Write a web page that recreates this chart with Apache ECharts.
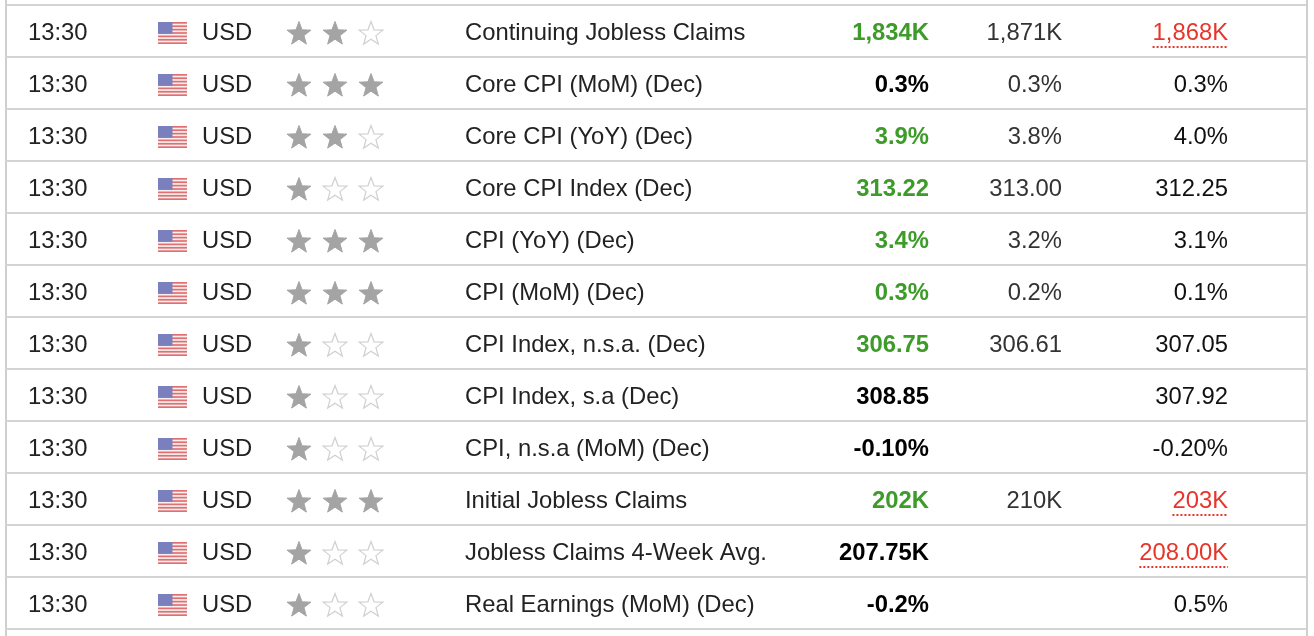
<!DOCTYPE html>
<html>
<head>
<meta charset="utf-8">
<script src="https://cdn.jsdelivr.net/npm/echarts@6/dist/echarts.min.js"></script>
<style>html,body{margin:0;padding:0;background:#fff}#main{width:1314px;height:636px}</style>
</head>
<body>
<div id="main"></div>
<script>
// table rows
var times = ['13:30','13:30','13:30','13:30','13:30','13:30','13:30','13:30','13:30','13:30','13:30','13:30'];
var currency = 'USD';
var events = ['Continuing Jobless Claims','Core CPI (MoM) (Dec)','Core CPI (YoY) (Dec)','Core CPI Index (Dec)',
  'CPI (YoY) (Dec)','CPI (MoM) (Dec)','CPI Index, n.s.a. (Dec)','CPI Index, s.a (Dec)','CPI, n.s.a (MoM) (Dec)',
  'Initial Jobless Claims','Jobless Claims 4-Week Avg.','Real Earnings (MoM) (Dec)'];
var stars = [2,3,2,1,3,3,1,1,1,3,1,1];
var actual = ['1,834K','0.3%','3.9%','313.22','3.4%','0.3%','306.75','308.85','-0.10%','202K','207.75K','-0.2%'];
var actualGood = [1,0,1,1,1,1,1,0,0,1,0,0];
var forecast = ['1,871K','0.3%','3.8%','313.00','3.2%','0.2%','306.61','','','210K','',''];
var previous = ['1,868K','0.3%','4.0%','312.25','3.1%','0.1%','307.05','307.92','-0.20%','203K','208.00K','0.5%'];
var previousRevised = [1,0,0,0,0,0,0,0,0,1,1,0];

var FONT = '"Liberation Sans", Arial, sans-serif';
var FS = '23.8px ';
var chart = echarts.init(document.getElementById('main'));

function starPoints(cx, cy, R, r) {
  var pts = [];
  for (var i = 0; i < 10; i++) {
    var a = -Math.PI / 2 + i * Math.PI / 5;
    var rad = i % 2 ? r : R;
    pts.push([cx + rad * Math.cos(a), cy + rad * Math.sin(a)]);
  }
  return pts;
}

function flag(x, y) {
  var w = 29, h = 22;
  var kids = [{type: 'rect', shape: {x: x, y: y, width: w, height: h}, style: {fill: '#f7eeee'}}];
  for (var k = 0; k < 7; k++) {
    kids.push({type: 'rect', shape: {x: x, y: y + k * 2 * h / 13, width: w, height: h / 13}, style: {fill: '#e07070'}});
  }
  kids.push({type: 'rect', shape: {x: x, y: y, width: w * 0.5, height: h * 7 / 13}, style: {fill: '#7a80bd'}});
  return kids;
}

function renderRow(params, api) {
  var i = api.value(0);
  var y = api.coord([0, i])[1] + 2;
  var bh = api.size([0, 1])[1];
  var top = api.coord([0, i])[1] - bh / 2;
  var base = {font: FS + FONT, textVerticalAlign: 'middle'};
  var kids = [
    {type: 'line', shape: {x1: 6, y1: top + bh, x2: 1307, y2: top + bh}, style: {stroke: '#d4d4d4', lineWidth: 2}},
    {type: 'text', style: Object.assign({text: times[i], x: 28, y: y, fill: '#222'}, base)},
    {type: 'text', style: Object.assign({text: currency, x: 202, y: y, fill: '#222'}, base)},
    {type: 'text', style: Object.assign({text: events[i], x: 465, y: y, fill: '#222'}, base)},
    {type: 'text', style: Object.assign({text: actual[i], x: 929, y: y, textAlign: 'right',
      fill: actualGood[i] ? '#3d9b2a' : '#000'}, base, {font: 'bold ' + FS + FONT})},
    {type: 'text', style: Object.assign({text: forecast[i], x: 1062, y: y, textAlign: 'right', fill: '#333'}, base)},
    {type: 'text', style: Object.assign({text: previous[i], x: 1228, y: y, textAlign: 'right',
      fill: previousRevised[i] ? '#e8352b' : '#111'}, base)}
  ];
  if (previousRevised[i]) {
    var tw = echarts.format.getTextRect ? echarts.format.getTextRect(previous[i], FS + FONT).width : 90;
    kids.push({type: 'line', shape: {x1: 1228 - tw, y1: y + 14, x2: 1228, y2: y + 14},
      style: {stroke: '#e8352b', lineWidth: 2, lineDash: [2, 2]}});
  }
  kids = kids.concat(flag(158, y - 11));
  for (var s = 0; s < 3; s++) {
    var filled = s < stars[i];
    kids.push({type: 'polygon', shape: {points: starPoints(299 + s * 36, y + 1, 12.5, 5.2)},
      style: filled ? {fill: '#a4a4a4', stroke: '#a4a4a4', lineWidth: 1} : {fill: '#fff', stroke: '#d0d0d0', lineWidth: 1.2}});
  }
  return {type: 'group', children: kids};
}

var rows = events.map(function (e, i) { return [i]; });

chart.setOption({
  animation: false,
  grid: {left: 0, right: 0, top: 5, bottom: 7},
  xAxis: {type: 'value', min: 0, max: 1314, show: false},
  yAxis: {type: 'category', inverse: true, data: events, show: false},
  graphic: [
    {type: 'line', shape: {x1: 6, y1: 5, x2: 1307, y2: 5}, style: {stroke: '#d4d4d4', lineWidth: 2}},
    {type: 'line', shape: {x1: 6, y1: 0, x2: 6, y2: 636}, style: {stroke: '#cfcfcf', lineWidth: 2}},
    {type: 'line', shape: {x1: 1307, y1: 0, x2: 1307, y2: 636}, style: {stroke: '#cfcfcf', lineWidth: 2}}
  ],
  series: [{type: 'custom', renderItem: renderRow, data: rows, encode: {y: 0}}]
});
</script>
</body>
</html>
